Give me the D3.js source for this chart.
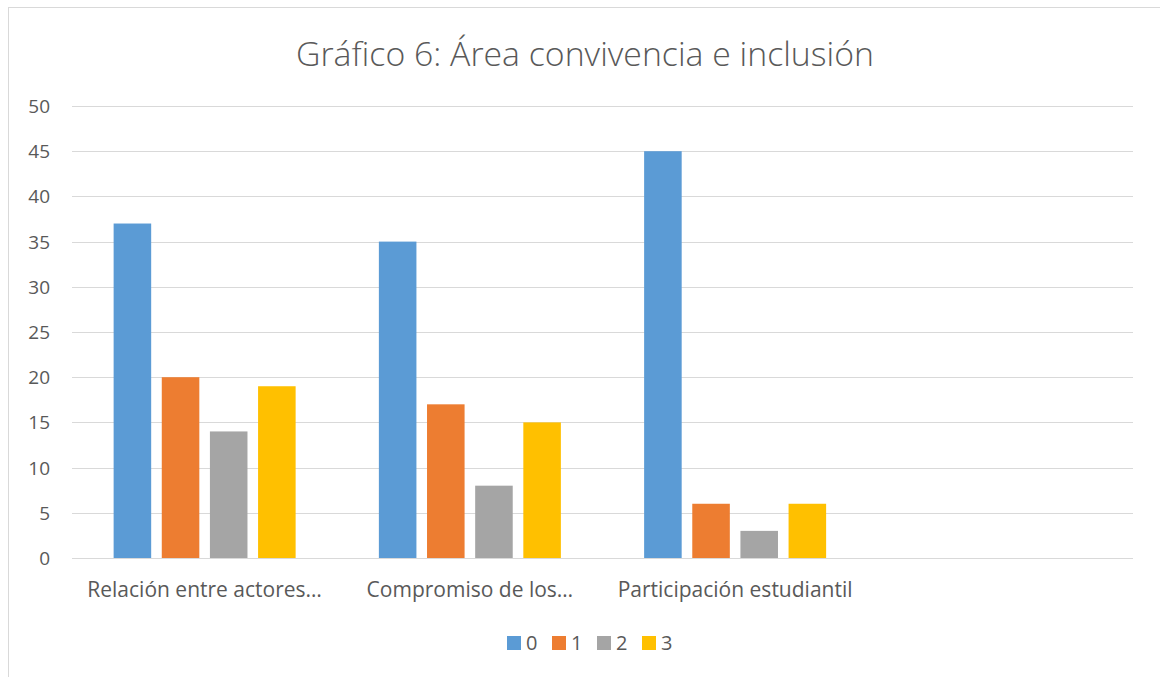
<!DOCTYPE html>
<html>
<head>
<meta charset="utf-8">
<script src="https://cdn.jsdelivr.net/npm/d3@7"></script>
<style>
  body { margin: 0; background: #fff; }
  text { font-family: "Open Sans", "Noto Sans", sans-serif; fill: #595959; }
</style>
</head>
<body>
<script>
// chart data
const categories = ['Relación entre actores…', 'Compromiso de los…', 'Participación estudiantil', ''];
const seriesNames = ['0', '1', '2', '3'];
const values0 = [37, 35, 45];
const values1 = [20, 17, 6];
const values2 = [14, 8, 3];
const values3 = [19, 15, 6];
const yTicks = [0, 5, 10, 15, 20, 25, 30, 35, 40, 45, 50];
const colors = ['#5b9bd5', '#ed7d31', '#a5a5a5', '#ffc000'];

const allSeries = [values0, values1, values2, values3];

const w = 1160, h = 677;
const svg = d3.select('body').append('svg')
  .attr('width', w).attr('height', h);

// outer chart border (runs off the right and bottom edges)
svg.append('rect')
  .attr('x', 8.5).attr('y', 7.5)
  .attr('width', w + 20).attr('height', h + 20)
  .attr('fill', '#fff').attr('stroke', '#d9d9d9');

svg.append('text')
  .attr('x', 585).attr('y', 66)
  .attr('text-anchor', 'middle')
  .attr('font-size', 33.8)
  .attr('font-weight', 300)
  .text('Gráfico 6: Área convivencia e inclusión');

const plotL = 72, plotR = 1133, plotT = 106, plotB = 558;
const groupW = 182;

const x = d3.scaleBand().domain(d3.range(categories.length)).range([plotL, plotR]);
const y = d3.scaleLinear().domain([0, 50]).range([plotB, plotT]);
const inner = d3.scaleBand().domain(d3.range(seriesNames.length))
  .range([0, groupW]).paddingInner(0.22);
const groupOffset = (x.bandwidth() - groupW) / 2;

// gridlines
svg.append('g').selectAll('line').data(yTicks).enter().append('line')
  .attr('x1', plotL).attr('x2', plotR)
  .attr('y1', d => Math.round(y(d)) + 0.5).attr('y2', d => Math.round(y(d)) + 0.5)
  .attr('stroke', '#d9d9d9').attr('stroke-width', 1.2);

// y labels
svg.append('g').selectAll('text').data(yTicks).enter().append('text')
  .attr('x', 50).attr('y', d => y(d) + 7)
  .attr('text-anchor', 'end')
  .attr('font-size', 19)
  .text(d => d);

// bars
allSeries.forEach((vals, s) => {
  svg.append('g').selectAll('rect').data(vals).enter().append('rect')
    .attr('x', (d, i) => x(i) + groupOffset + inner(s))
    .attr('y', d => y(d))
    .attr('width', inner.bandwidth())
    .attr('height', d => y(0) - y(d))
    .attr('fill', colors[s]);
});

// category labels
svg.append('g').selectAll('text').data(categories).enter().append('text')
  .attr('x', (d, i) => x(i) + x.bandwidth() / 2)
  .attr('y', 597)
  .attr('text-anchor', 'middle')
  .attr('font-size', 21)
  .text(d => d);

// legend
const legend = svg.append('g').selectAll('g').data(seriesNames).enter().append('g')
  .attr('transform', (d, i) => `translate(${507 + i * 45},636)`);
legend.append('rect').attr('width', 14).attr('height', 14)
  .attr('fill', (d, i) => colors[i]);
legend.append('text').attr('x', 19).attr('y', 14)
  .attr('font-size', 20)
  .text(d => d);
</script>
</body>
</html>
